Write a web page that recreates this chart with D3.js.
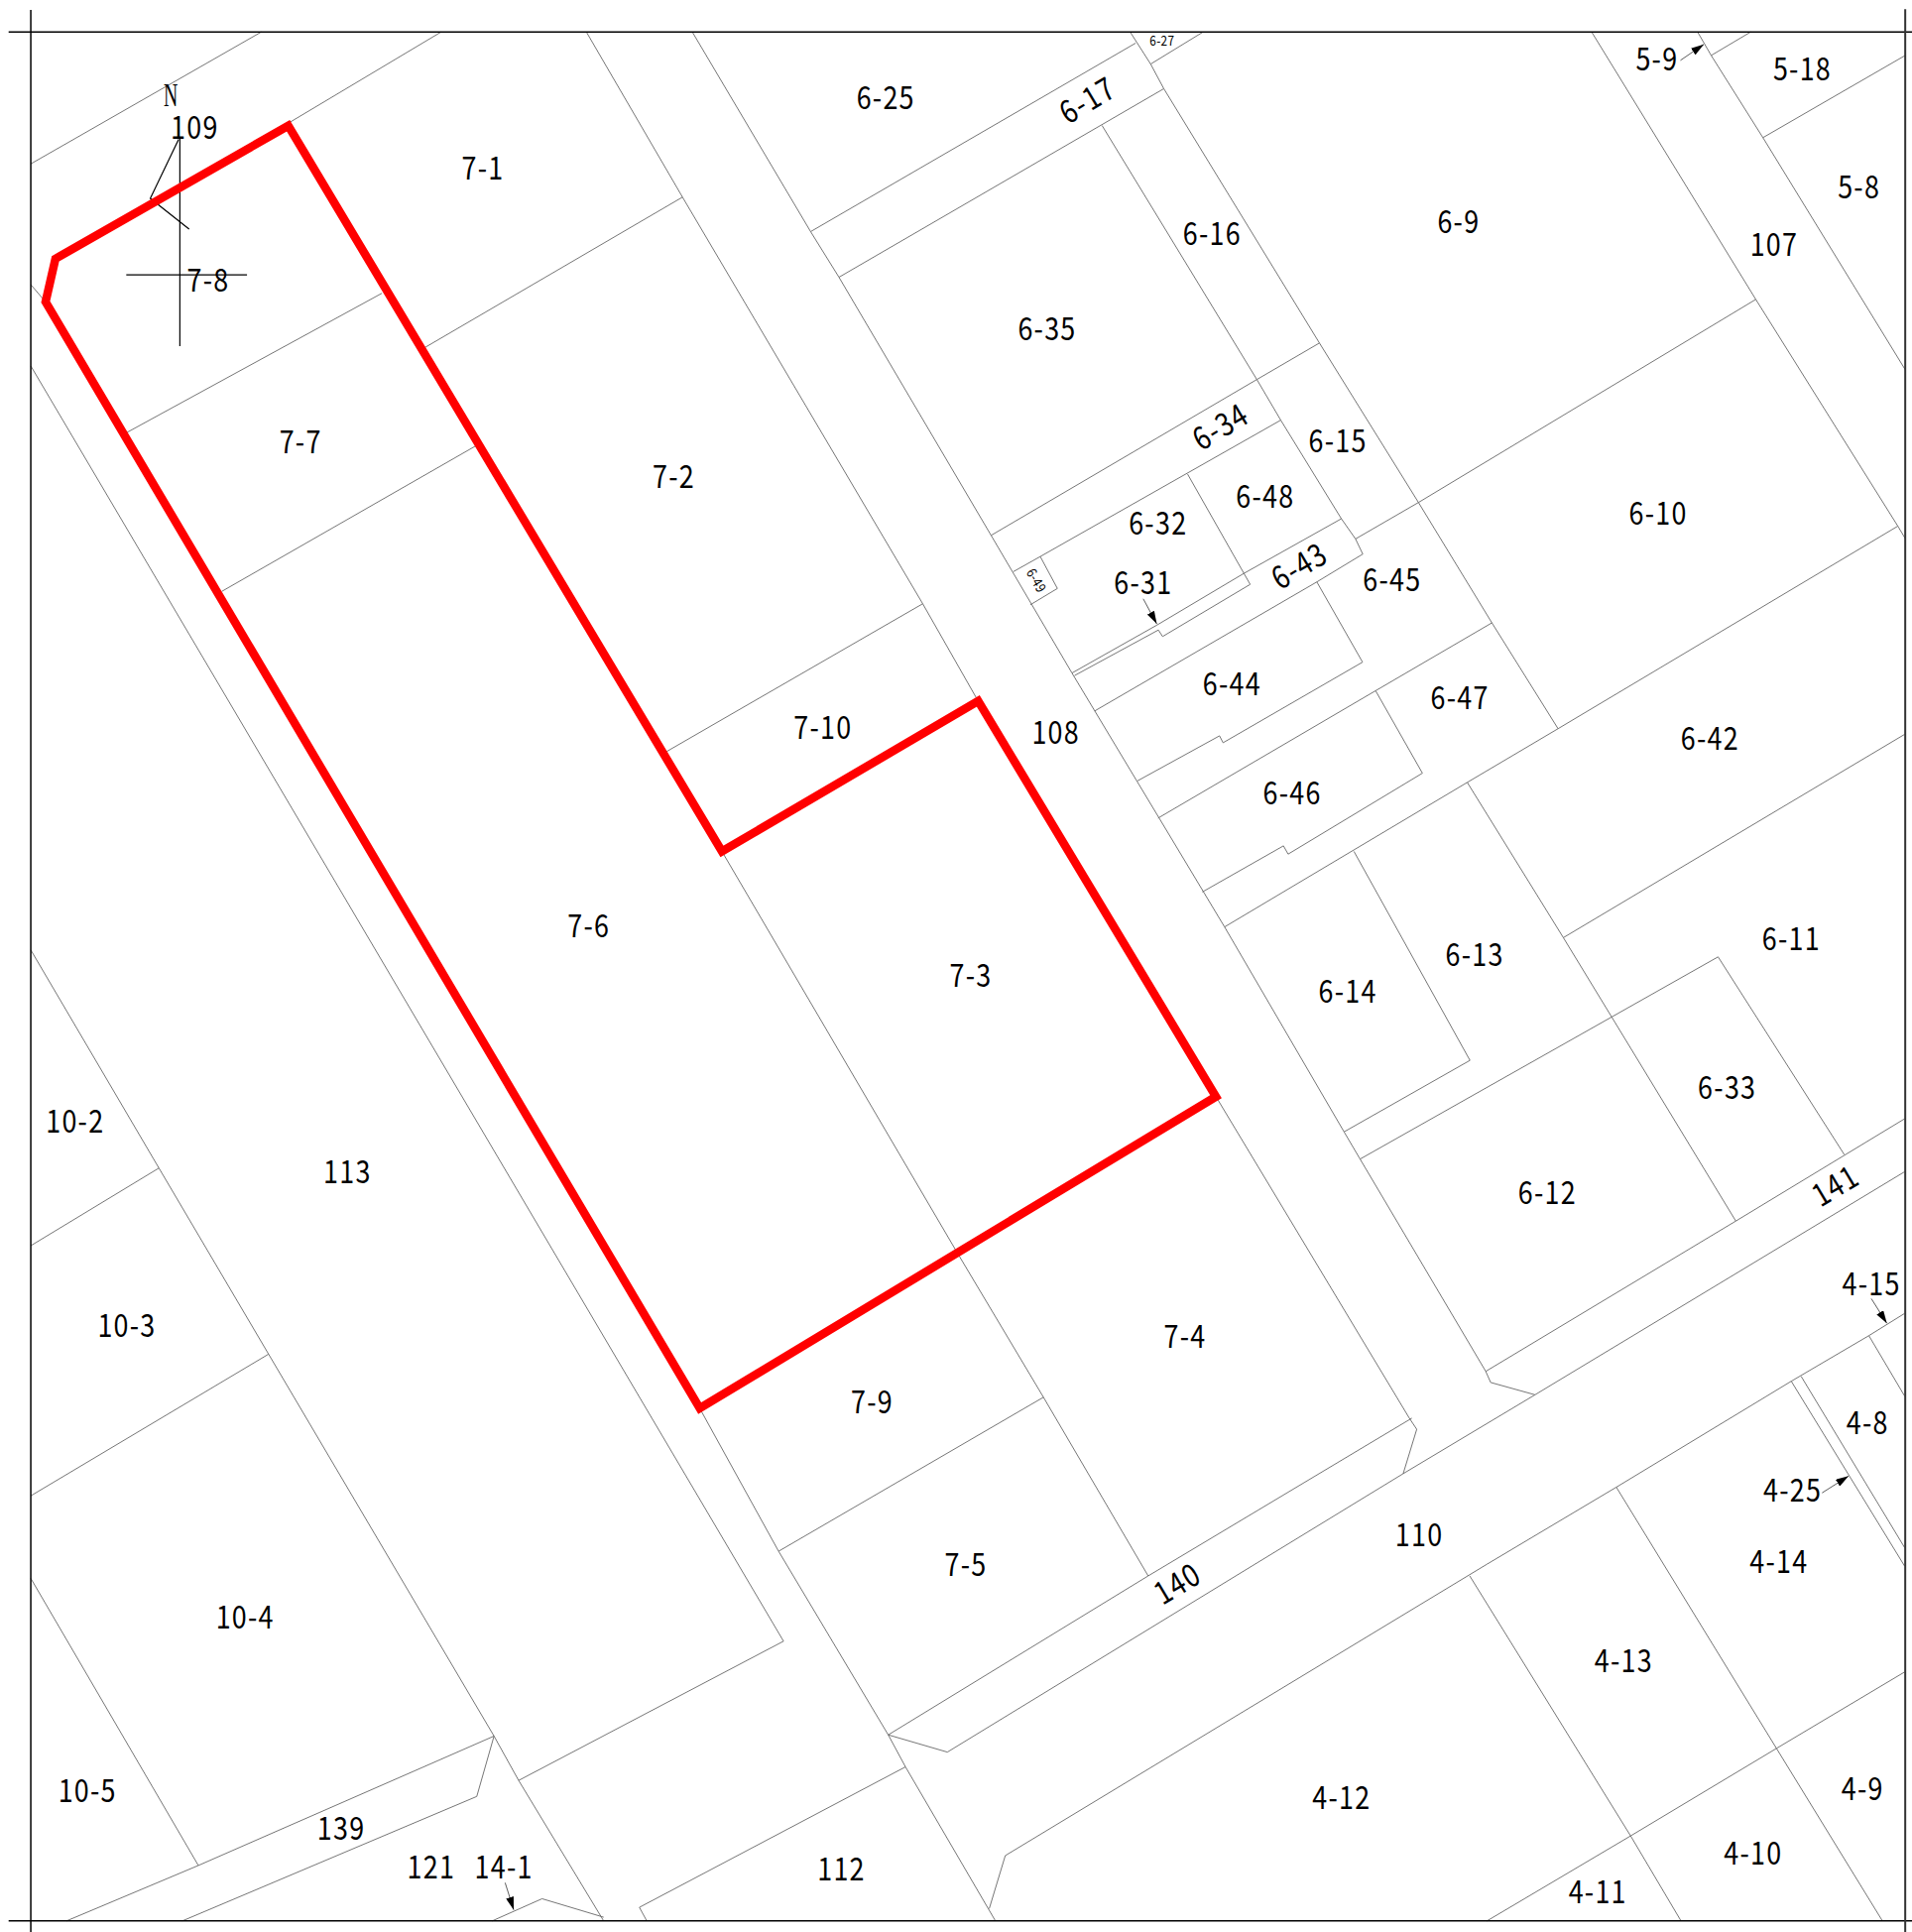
<!DOCTYPE html>
<html>
<head>
<meta charset="utf-8">
<script src="https://cdn.jsdelivr.net/npm/d3@7"></script>
<style>
  html, body { margin: 0; padding: 0; background: #fff; }
  svg { display: block; }
  text { font-family: "Noto Sans CJK JP", "Noto Sans", sans-serif; fill: #000; }
</style>
</head>
<body>
<div id="map"></div>
<script>
// Survey coordinates (map units, y pointing down)
const mapWidth = 1552, mapHeight = 1568;

// Sheet frame lines
const frameLines = [
    [[7, 26], [1552, 26]],
    [[7, 1559], [1552, 1559]],
    [[25, 8], [25, 1568]]
];
const frameRight = [[[1546.5, 7.5], [1546.5, 1568]]];

// Outline of the highlighted plot
const plotOutline = [[37, 245], [45, 210], [234, 102], [586, 691], [794, 569], [987, 890], [568, 1143]];

// Compass mark
const compassLines = [
    [[146, 112], [146, 281]],
    [[102.5, 223], [200.5, 223]],
    [[145, 113], [122, 161], [153.5, 186]]
];

// Lot boundaries, west block
const westBoundaries = [
    [[25, 133], [212, 26]],
    [[45, 209], [234, 100], [358, 26]],
    [[476, 26], [554, 160], [749, 490], [794, 569]],
    [[987, 890], [1144, 1151], [1150, 1160], [1139, 1196]],
    [[554, 160], [345, 282]],
    [[310, 238], [103, 351]],
    [[386, 362], [180, 480]],
    [[749, 490], [541, 610]],
    [[586, 691], [776, 1015], [847, 1134], [932, 1279]],
    [[847, 1134], [632, 1259]],
    [[25, 231], [37, 245]],
    [[25, 297], [636, 1332], [421, 1445]],
    [[568, 1143], [632, 1259], [721, 1408], [735, 1434], [808, 1559]],
    [[735, 1434], [519, 1548], [525, 1559]],
    [[25, 771], [129, 948], [218, 1099], [401, 1409], [421, 1445], [490, 1559]],
    [[129, 948], [25, 1011]],
    [[218, 1099], [25, 1214]],
    [[25, 1281], [161, 1514]],
    [[401, 1409], [161, 1514], [54, 1559]],
    [[401, 1409], [387, 1458], [148, 1559]],
    [[399.5, 1559], [440, 1541], [490, 1556]]
];

// Road 140 and 141 edges
const roadEdges = [
    [[721, 1408], [932, 1279], [1146, 1151]],
    [[721, 1408], [769, 1422], [1139, 1196], [1246, 1132], [1546, 951]],
    [[1206, 1113], [1409, 991], [1546, 908]],
    [[1206, 1113], [1210, 1122], [1246, 1132]],
    [[803, 1549], [816, 1506], [1207, 1269.5], [1312, 1207], [1454, 1121], [1517, 1084], [1546, 1066]]
];

// Lot boundaries, east block
const eastBoundaries = [
    [[562, 26], [658, 188], [681, 225], [804.5, 434.5], [870, 546], [994, 752.3], [1091, 918.6], [1104, 940.7], [1206, 1113]],
    [[658, 188], [921.8, 35]],
    [[681, 225], [944.7, 72]],
    [[917.4, 26], [934, 52], [944.7, 72], [1071, 278.4], [1151.4, 407.8], [1211, 505.5], [1264.7, 591.4]],
    [[934, 52], [976.5, 26]],
    [[894.5, 101.8], [1020.2, 308], [1039.6, 341], [1088.8, 421], [1100.3, 437.4], [1106.2, 449.7]],
    [[1071, 278.4], [1020.2, 308], [804.5, 434.5]],
    [[1039.6, 341], [844.4, 451.7], [822.5, 464]],
    [[964, 384.8], [1014.8, 474.3], [943.7, 516.6], [940.3, 511.3], [872.2, 548.3]],
    [[1088.8, 421], [1009.8, 465.3], [939.3, 507.2], [870.2, 546.2]],
    [[844.4, 451.7], [858.3, 477.6], [836.4, 490.8]],
    [[1151.4, 407.8], [1100.3, 437.4]],
    [[1106.2, 449.7], [1068.9, 472.3], [888.6, 577]],
    [[1068.9, 472.3], [1106, 537.4], [992.8, 602.8], [989.9, 597.2], [923.4, 633.7]],
    [[1211, 505.5], [1116.6, 560.6], [940, 664]],
    [[1116.6, 560.6], [1154.6, 627.5], [1045.6, 693.2], [1041.8, 686.5], [976, 723.9]],
    [[1540.5, 427], [1264.7, 591.4], [1191, 635], [994, 752.3]],
    [[1546, 596], [1269, 761]],
    [[1191, 635], [1269, 761], [1308, 825], [1409, 991]],
    [[1099, 691], [1193.2, 860.6], [1091, 918.6]],
    [[1104, 940.7], [1394.6, 776.6], [1497, 937]],
    [[1151.4, 407.8], [1425.2, 243]],
    [[1292, 26], [1425.2, 243], [1540.5, 427], [1546.5, 437]],
    [[1378, 26], [1389, 45], [1431, 111.7], [1546.5, 300]],
    [[1389, 45], [1421, 26]],
    [[1431, 111.7], [1546.5, 45]]
];

// Lot boundaries, south-east block
const southBoundaries = [
    [[1312, 1207], [1442, 1419], [1528, 1559]],
    [[1546, 1357], [1442, 1419], [1323.6, 1490], [1207, 1559]],
    [[1193, 1279], [1323.6, 1490], [1364.5, 1559]],
    [[1517, 1084], [1546, 1133]],
    [[1454, 1121], [1546, 1271]],
    [[1462, 1117], [1546, 1256]]
];

// Leader arrows: tail, tip
const leaders = [
    [[1364, 49], [1383, 36]],
    [[928, 486], [939, 506.4]],
    [[1519, 1054], [1531.6, 1074]],
    [[1479, 1211.6], [1500.5, 1198]],
    [[410, 1528], [417, 1550]]
];

// Lot numbers: text, x, y
const lotLabels = [
    ['109', 157, 104], ['7-1', 391, 137], ['7-8', 168, 228], ['7-7', 243, 359],
    ['7-2', 546, 387], ['7-10', 667, 591], ['7-6', 477, 752], ['7-3', 787, 792],
    ['7-4', 961, 1085], ['7-9', 707, 1138], ['7-5', 783, 1270], ['108', 856, 595],
    ['6-25', 718, 80], ['6-16', 983, 190], ['6-35', 849, 267], ['6-9', 1183, 180],
    ['5-9', 1344, 48], ['5-18', 1462, 56], ['5-8', 1508, 152], ['107', 1439, 199],
    ['6-15', 1085, 358], ['6-48', 1026, 403], ['6-32', 939, 425], ['6-31', 927, 473],
    ['6-45', 1129, 471], ['6-10', 1345, 417], ['6-44', 999, 555], ['6-47', 1184, 567],
    ['6-42', 1387, 600], ['6-46', 1048, 644], ['6-13', 1196, 775], ['6-14', 1093, 805],
    ['6-11', 1453, 762], ['6-33', 1401, 883], ['6-12', 1255, 968], ['10-2', 60, 910],
    ['10-3', 102, 1076], ['113', 281, 951], ['10-4', 198, 1313], ['10-5', 70, 1454],
    ['139', 276, 1484], ['121', 349, 1516], ['14-1', 408, 1516], ['112', 682, 1517],
    ['110', 1151, 1246], ['4-15', 1518, 1042], ['4-8', 1515, 1155], ['4-25', 1454, 1210],
    ['4-14', 1443, 1268], ['4-13', 1317, 1348], ['4-12', 1088, 1459], ['4-9', 1511, 1452],
    ['4-10', 1422, 1504], ['4-11', 1296, 1536]
];

// Labels set along the road or lot direction: text, x, y, angle
const slantedLabels = [
    ['6-17', 882, 82, -31], ['6-34', 990, 347, -31], ['6-43', 1054, 460, -31],
    ['140', 955, 1286, -31], ['141', 1489, 963, -31]
];

// Very small lots carry small labels: text, x, y, angle
const tinyLabels = [
    ['6-27', 943, 33, 0], ['6-49', 841, 471, 60]
];

const x = d3.scaleLinear().domain([0, mapWidth]).range([0, 1928]);
const y = d3.scaleLinear().domain([0, mapHeight]).range([0, 1948]);

const svg = d3.select('#map')
    .append('svg')
    .attr('width', 1928)
    .attr('height', 1948);

const defs = svg.append('defs');
defs.append('marker')
    .attr('id', 'tip')
    .attr('viewBox', '0 0 13 8')
    .attr('refX', 13)
    .attr('refY', 4)
    .attr('markerWidth', 13)
    .attr('markerHeight', 8)
    .attr('markerUnits', 'userSpaceOnUse')
    .attr('orient', 'auto')
    .append('path')
    .attr('d', 'M0,0L13,4L0,8Z')
    .attr('fill', '#000');

const line = d3.line().x(d => x(d[0])).y(d => y(d[1]));

function drawLines(rows, stroke, width) {
    svg.append('g')
        .selectAll('path')
        .data(rows)
        .join('path')
        .attr('d', line)
        .attr('fill', 'none')
        .attr('stroke', stroke)
        .attr('stroke-width', width);
}

drawLines(westBoundaries, '#666', 0.9);
drawLines(eastBoundaries, '#666', 0.9);
drawLines(southBoundaries, '#666', 0.9);
drawLines(roadEdges, '#666', 0.9);
drawLines(frameLines, '#000', 1.5);
drawLines(frameRight, '#333', 2);
drawLines(compassLines, '#000', 1.2);

// Leaders
svg.append('g')
    .selectAll('path')
    .data(leaders)
    .join('path')
    .attr('d', line)
    .attr('fill', 'none')
    .attr('stroke', '#333')
    .attr('stroke-width', 0.8)
    .attr('marker-end', 'url(#tip)');

// Highlighted plot
svg.append('path')
    .datum(plotOutline)
    .attr('d', d => line(d) + 'Z')
    .attr('fill', 'none')
    .attr('stroke', '#ff0000')
    .attr('stroke-width', 8.5)
    .attr('stroke-linejoin', 'miter');

function drawLabels(rows, size, spacing, lift) {
    svg.append('g')
        .selectAll('text')
        .data(rows)
        .join('text')
        .attr('transform', d => `translate(${x(d[1])},${y(d[2])}) rotate(${d[3] || 0}) scale(0.84,1)`)
        .attr('x', spacing)
        .attr('y', -lift)
        .attr('text-anchor', 'middle')
        .attr('dominant-baseline', 'central')
        .attr('font-size', size)
        .attr('letter-spacing', spacing)
        .text(d => d[0]);
}

drawLabels(lotLabels, 32, 1.5, 2.5);
drawLabels(slantedLabels, 32, 1.5, 2.5);
drawLabels(tinyLabels, 14, 0.4, 1);

// North letter of the compass
svg.append('text')
    .attr('transform', `translate(${x(138.5)},${y(77)}) scale(0.6,1)`)
    .attr('text-anchor', 'middle')
    .attr('dominant-baseline', 'central')
    .attr('font-size', 33)
    .style('font-family', '"Liberation Serif", serif')
    .text('N');
</script>
</body>
</html>
